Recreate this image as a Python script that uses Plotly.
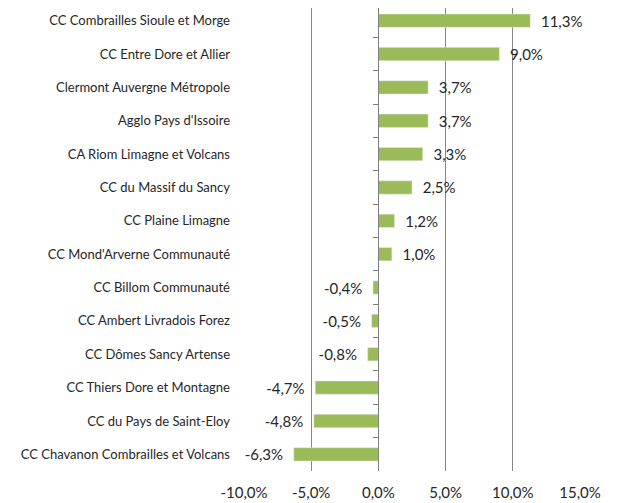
import plotly.graph_objects as go

# territories, top to bottom
territoires = [
    "CC Combrailles Sioule et Morge",
    "CC Entre Dore et Allier",
    "Clermont Auvergne Métropole",
    "Agglo Pays d'Issoire",
    "CA Riom Limagne et Volcans",
    "CC du Massif du Sancy",
    "CC Plaine Limagne",
    "CC Mond'Arverne Communauté",
    "CC Billom Communauté",
    "CC Ambert Livradois Forez",
    "CC Dômes Sancy Artense",
    "CC Thiers Dore et Montagne",
    "CC du Pays de Saint-Eloy",
    "CC Chavanon Combrailles et Volcans",
]
evolution = [11.3, 9.0, 3.7, 3.7, 3.3, 2.5, 1.2, 1.0, -0.4, -0.5, -0.8, -4.7, -4.8, -6.3]

x_ticks = [-10, -5, 0, 5, 10, 15]
x_ticktext = ["-10,0%", "-5,0%", "0,0%", "5,0%", "10,0%", "15,0%"]

# decimal comma, a little padding between bar end and label
NB = "\u00a0\u00a0"
labels = []
for v in evolution:
    s = f"{v:.1f}".replace(".", ",") + "%"
    labels.append(NB + s if v >= 0 else s + NB)

GREEN = "#9BBB59"
TXT = "#262626"
FONT = "Lato"

x_dom = [0.0, 1.0]
zero_pos = x_dom[0] + (0 - x_ticks[0]) / (x_ticks[-1] - x_ticks[0]) * (x_dom[1] - x_dom[0])
# reversed category range, top slightly cut to sit the rows like the original
y_range = [len(territoires) - 0.5, -0.38]

fig = go.Figure()
fig.add_trace(go.Bar(
    x=evolution, y=territoires, orientation="h",
    marker=dict(color=GREEN, line=dict(width=0)),
    width=0.4,
    text=labels, textposition="outside", cliponaxis=False,
    constraintext="none",
    textfont=dict(family=FONT, size=15, color=TXT),
    hoverinfo="skip",
))
# invisible copy on a second axis so the category ticks sit on the zero line
fig.add_trace(go.Bar(
    x=evolution, y=territoires, orientation="h", yaxis="y2",
    marker=dict(color="rgba(0,0,0,0)"), width=0.4, hoverinfo="skip",
    showlegend=False,
))

# page body has an 8px margin, so the figure is a bit smaller than the window
fig.update_layout(
    width=613, height=495,
    margin=dict(l=236, r=41, t=0, b=32, autoexpand=False),
    paper_bgcolor="white", plot_bgcolor="white",
    showlegend=False, barmode="overlay",
    font=dict(family=FONT, color=TXT),
    xaxis=dict(
        domain=x_dom, automargin=False,
        range=[x_ticks[0], x_ticks[-1]],
        tickvals=x_ticks, ticktext=x_ticktext,
        showgrid=True, gridcolor="#878787", gridwidth=1,
        zeroline=False, showline=False, ticks="",
        tickfont=dict(family=FONT, size=15, color=TXT),
        ticklabelstandoff=11,
    ),
    yaxis=dict(
        range=y_range, automargin=False,
        showgrid=False, zeroline=False, showline=False, ticks="",
        tickfont=dict(family=FONT, size=13, color=TXT),
        ticklabelstandoff=13,
    ),
    yaxis2=dict(
        overlaying="y", anchor="free", position=zero_pos, side="left",
        range=y_range, showticklabels=False, automargin=False,
        showline=True, linecolor="#7F7F7F", linewidth=1,
        ticks="outside", ticklen=5, tickcolor="#7F7F7F", tickson="boundaries",
        showgrid=False, zeroline=False,
    ),
)

fig.write_html("out.html")
